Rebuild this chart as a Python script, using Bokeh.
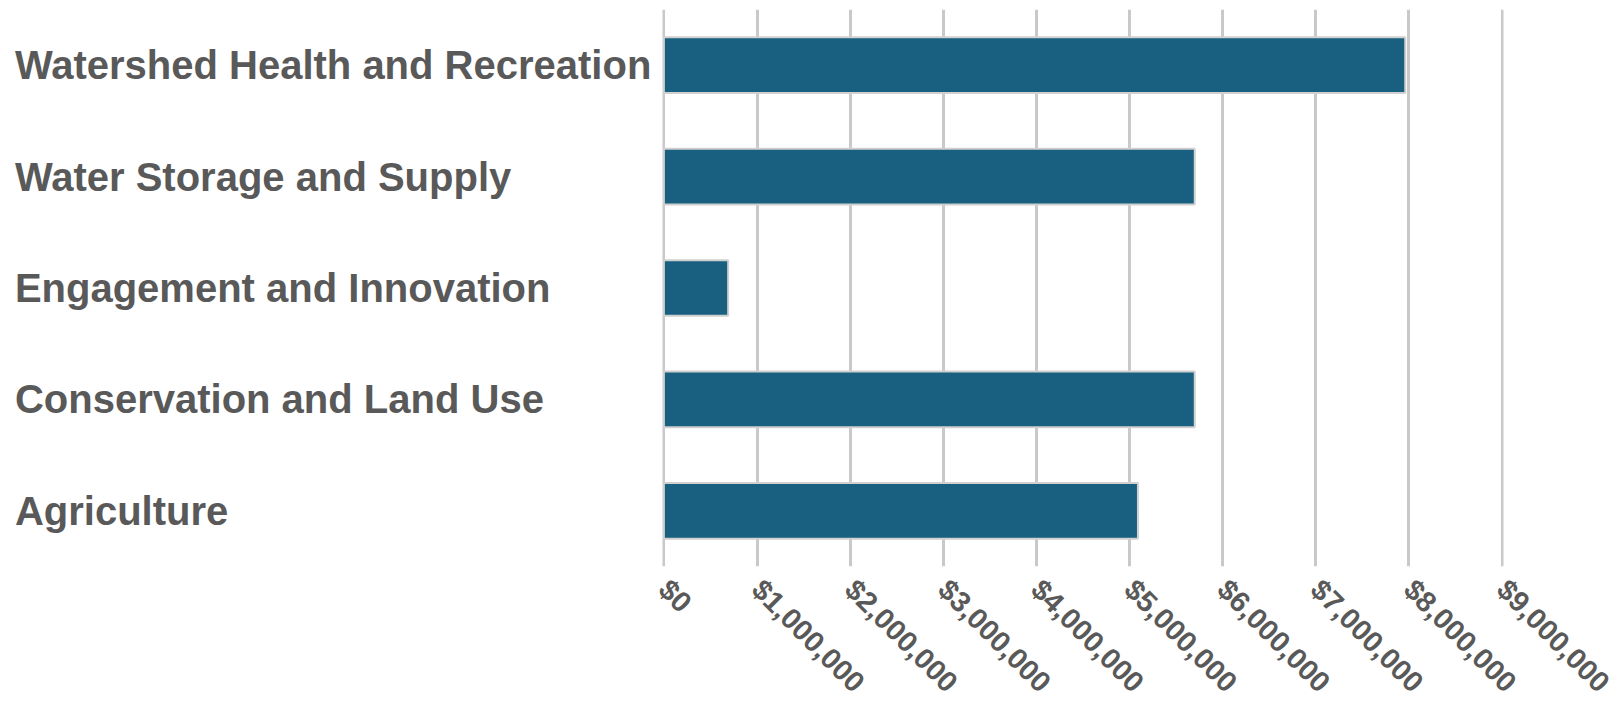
from bokeh.plotting import figure
from bokeh.models import ColumnDataSource, FixedTicker, NumeralTickFormatter
from bokeh.core.properties import value
from bokeh.embed import file_html
from bokeh.resources import INLINE

categories = ["Watershed Health and Recreation", "Water Storage and Supply",
              "Engagement and Innovation", "Conservation and Land Use", "Agriculture"]
amounts = [7960000, 5700000, 690000, 5700000, 5090000]
x_ticks = [0, 1000000, 2000000, 3000000, 4000000, 5000000, 6000000, 7000000, 8000000, 9000000]

src = ColumnDataSource(data=dict(cat=categories, amt=amounts))

p = figure(y_range=list(reversed(categories)), x_range=(-15000, 9015000),
           frame_width=841, frame_height=557,
           min_border_left=662, min_border_right=116, min_border_top=9, min_border_bottom=144,
           output_backend="svg", toolbar_location=None)
p.outline_line_color = None
p.background_fill_color = "white"
p.border_fill_color = "white"

p.hbar(y="cat", left=0, right="amt", height=0.5, source=src,
       fill_color="#185f80", line_color="#d0d0d0", line_width=2)

p.text(x=0, y="cat", text="cat", source=src, x_offset=-649,
       text_align="left", text_baseline="middle",
       text_font=value("Liberation Sans"), text_font_style="bold",
       text_font_size="40px", text_color="#595959", level="overlay")

p.yaxis.visible = False
p.ygrid.grid_line_color = None

ax = p.xaxis[0]
ax.ticker = FixedTicker(ticks=x_ticks)
ax.formatter = NumeralTickFormatter(format="$0,0")
ax.axis_line_color = None
ax.major_tick_line_color = None
ax.minor_tick_line_color = None
ax.major_tick_out = 0
ax.major_label_standoff = 18
ax.major_label_orientation = -0.785398
ax.major_label_text_font = "Liberation Sans"
ax.major_label_text_font_style = "bold"
ax.major_label_text_font_size = "29px"
ax.major_label_text_color = "#595959"

p.xgrid.ticker = FixedTicker(ticks=x_ticks)
p.xgrid.grid_line_color = "#c9c9c9"
p.xgrid.grid_line_width = 3

open("out.html", "w").write(file_html(p, INLINE))
